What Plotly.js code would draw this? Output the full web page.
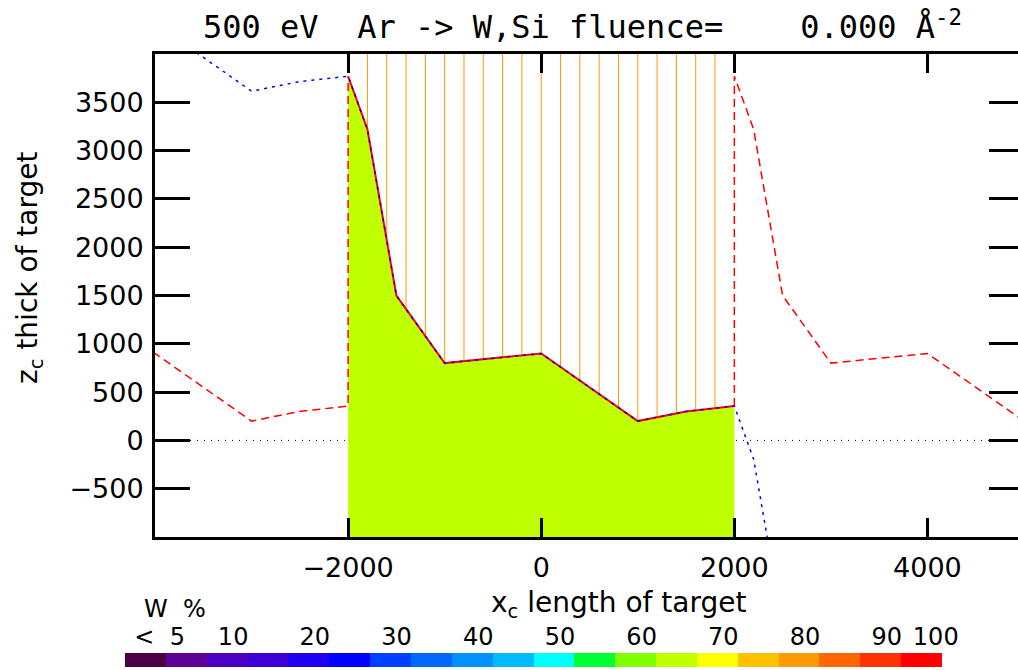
<!DOCTYPE html>
<html>
<head>
<meta charset="utf-8">
<script src="https://cdn.plot.ly/plotly-3.0.1.min.js"></script>
<style>
  html, body { margin: 0; padding: 0; overflow: hidden; background: #fff; }
  #chart { width: 1024px; height: 670px; }
</style>
</head>
<body>
<div id="chart"></div>
<script>
// ---- data ----
const profileX = [-2000, -1800, -1500, -1000, 0, 1000, 1500, 2000];   // x_c of surface nodes
const profileZ = [3770, 3220, 1500, 800, 900, 200, 300, 355];          // z_c of surface nodes
const period = 4000;                                                   // lateral period of target
const columnX = [-1800, -1600, -1400, -1200, -1000, -800, -600, -400, -200, 0,
                 200, 400, 600, 800, 1000, 1200, 1400, 1600, 1800];
const xRange = [-4000, 5000];
const yRange = [-1000, 4000];
const xTickVals = [-2000, 0, 2000, 4000];
const yTickVals = [-500, 0, 500, 1000, 1500, 2000, 2500, 3000, 3500];
const wLower = [0, 5, 10, 15, 20, 25, 30, 35, 40, 45, 50, 55, 60, 65, 70, 75, 80, 85, 90, 95];
const wColors = ['#4b0046', '#5c0096', '#4b00c3', '#3c00d4', '#2000f0', '#0000ff', '#0040ff',
                 '#0068ff', '#0090ff', '#00bbff', '#00ffff', '#00ff33', '#80ff00', '#c0ff00',
                 '#ffff00', '#ffc000', '#ff9900', '#ff6600', '#ff3300', '#ff0000'];
const wTickVals = [3.5, 12.5, 22.5, 32.5, 42.5, 52.5, 62.5, 72.5, 82.5, 92.5, 98.5];
const wTickText = ['<\u00a0\u00a05', '10', '20', '30', '40', '50', '60', '70', '80', '90', '100'];

// ---- derived periodic images of the surface ----
const last = profileX.length - 1;
const drop = profileZ[0] - profileZ[last];
const redX = [...profileX.map(x => x - period), profileX[0], null,
              profileX[last], ...profileX.map(x => x + period)];
const redY = [...profileZ, profileZ[0], null, profileZ[last], ...profileZ];
const blueX = [...profileX.map(x => x - period), ...profileX.slice(1),
               ...profileX.slice(1).map(x => x + period)];
const blueY = [...profileZ.map(z => z + drop), ...profileZ.slice(1),
               ...profileZ.slice(1).map(z => z - drop)];

const W = 1024, H = 670;
const px = v => v / W, py = v => 1 - v / H;
const labelFont = {family: 'DejaVu Sans', size: 27, color: '#000'};

const traces = [
  {x: xRange, y: [0, 0], mode: 'lines', hoverinfo: 'skip',
   line: {color: '#000', width: 1, dash: '1px,6px'}},
  {x: columnX.flatMap(c => [c, c, null]), y: columnX.flatMap(() => [yRange[0], yRange[1], null]),
   mode: 'lines', hoverinfo: 'skip', line: {color: '#ff9900', width: 1}},
  {x: [...profileX, profileX[last], profileX[0]], y: [...profileZ, yRange[0], yRange[0]],
   mode: 'lines', fill: 'toself', fillcolor: '#c0ff00', line: {width: 0}, hoverinfo: 'skip'},
  {x: redX, y: redY, mode: 'lines', hoverinfo: 'skip',
   line: {color: '#ff0000', width: 1.5, dash: '8px,5px'}},
  {x: profileX, y: profileZ, mode: 'lines', hoverinfo: 'skip',
   line: {color: '#ff0000', width: 2}},
  {x: blueX, y: blueY, mode: 'lines', hoverinfo: 'skip',
   line: {color: '#0000ff', width: 1.5, dash: '3px,5px'}},
  {type: 'bar', x: wLower, y: wLower.map(() => 1), width: 5, offset: 0,
   marker: {color: wColors, line: {width: 0}}, xaxis: 'x2', yaxis: 'y2', hoverinfo: 'skip'}
];

const layout = {
  width: W, height: H,
  margin: {l: 0, r: 0, t: 0, b: 0},
  paper_bgcolor: '#fff', plot_bgcolor: '#fff',
  showlegend: false,
  bargap: 0,
  title: {
    text: '500 eV\u00a0\u00a0Ar -> W,Si fluence=\u00a0\u00a0\u00a0\u00a00.000 Å<sup>-2</sup>',
    font: {family: 'DejaVu Sans Mono', size: 32, color: '#000'},
    xref: 'container', yref: 'container',
    x: px(203), xanchor: 'left', y: py(27), yanchor: 'middle'
  },
  xaxis: {
    domain: [px(155), 1], range: xRange, anchor: 'y',
    tickmode: 'array', tickvals: xTickVals,
    ticks: 'inside', ticklen: 19, tickwidth: 3, tickcolor: '#000',
    showline: true, linewidth: 3, linecolor: '#000', mirror: 'ticks',
    showgrid: false, zeroline: false, tickfont: labelFont, ticklabelstandoff: 5
  },
  yaxis: {
    domain: [1 - 537 / H, 1 - 54 / H], range: yRange, anchor: 'x',
    tickmode: 'array', tickvals: yTickVals,
    ticks: 'inside', ticklen: 35, tickwidth: 3, tickcolor: '#000',
    showline: true, linewidth: 3, linecolor: '#000', mirror: 'ticks',
    showgrid: false, zeroline: false, tickfont: labelFont, ticklabelstandoff: 3
  },
  xaxis2: {
    domain: [px(125), px(942)], range: [0, 100], anchor: 'y2', side: 'top',
    tickmode: 'array', tickvals: wTickVals, ticktext: wTickText, ticklabelshift: 6,
    ticks: '', showline: false, showgrid: false, zeroline: false,
    tickfont: {family: 'DejaVu Sans', size: 24, color: '#000'}, ticklabelstandoff: 2
  },
  yaxis2: {
    domain: [1 - 667 / H, 1 - 653 / H], range: [0, 1], anchor: 'x2',
    visible: false, showgrid: false, zeroline: false
  },
  annotations: [
    {text: 'x<sub>c</sub> length of target', xref: 'paper', yref: 'paper',
     x: px(618), y: py(604), xanchor: 'center', yanchor: 'middle', showarrow: false,
     font: {family: 'DejaVu Sans', size: 28, color: '#000'}},
    {text: 'z<sub>c</sub> thick of target', xref: 'paper', yref: 'paper', textangle: -90,
     x: px(29), y: py(268), xanchor: 'center', yanchor: 'middle', showarrow: false,
     font: {family: 'DejaVu Sans', size: 28, color: '#000'}},
    {text: 'W\u00a0\u00a0%', xref: 'paper', yref: 'paper',
     x: px(175), y: py(609), xanchor: 'center', yanchor: 'middle', showarrow: false,
     font: {family: 'DejaVu Sans', size: 24, color: '#000'}}
  ]
};

Plotly.newPlot('chart', traces, layout, {displayModeBar: false, staticPlot: true});
</script>
</body>
</html>
